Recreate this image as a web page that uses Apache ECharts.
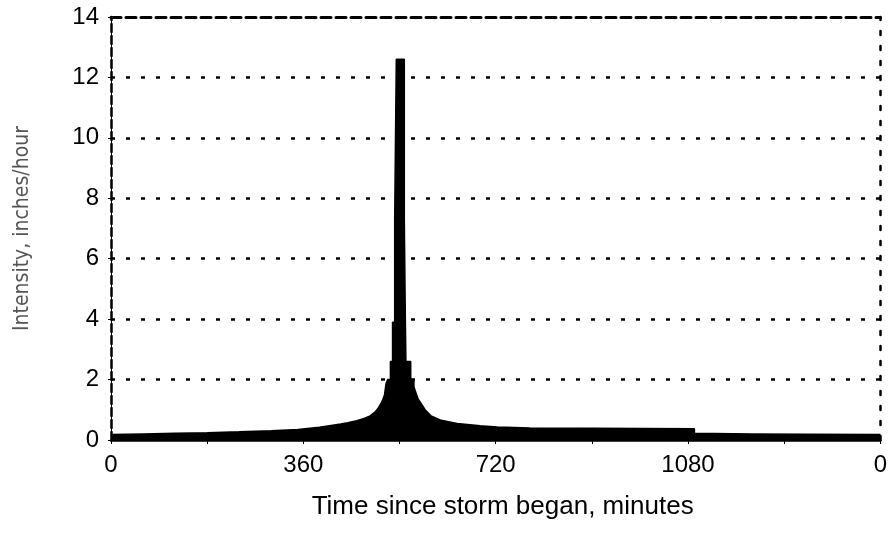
<!DOCTYPE html>
<html>
<head>
<meta charset="utf-8">
<script src="https://cdn.jsdelivr.net/npm/echarts@6/dist/echarts.min.js"></script>
<style>
html,body{margin:0;padding:0;background:#fff;}
#chart{width:890px;height:535px;}
</style>
</head>
<body>
<div id="chart"></div>
<script>
// Time (minutes since storm began); repeated times mark the vertical jumps of the hyetograph
var times = [0, 60, 120, 180, 240, 300, 350, 390, 412, 430, 443, 460, 475, 485, 494, 500, 505, 509, 512, 515,
             518, 523, 523, 527, 527, 531, 531, 534, 534, 549, 549, 551, 551, 552, 552, 561, 561, 567,
             567, 575, 588, 599, 618, 648, 691, 723, 784, 900, 1000, 1092, 1092, 1200, 1300, 1440];
// Intensity, inches/hour
var intensity = [0.18, 0.20, 0.22, 0.24, 0.27, 0.31, 0.35, 0.42, 0.48, 0.53, 0.57, 0.64, 0.72, 0.80, 0.92, 1.05, 1.20, 1.35, 1.50, 1.88,
                 2.0, 2.0, 2.6, 2.6, 3.9, 3.9, 7.3, 7.3, 12.6, 12.6, 7.3, 7.3, 3.9, 3.9, 2.6, 2.6, 2.0, 2.0,
                 1.75, 1.35, 1.0, 0.8, 0.65, 0.55, 0.47, 0.43, 0.40, 0.39, 0.38, 0.37, 0.22, 0.20, 0.19, 0.18];
var xTicks = [0, 360, 720, 1080, 1440];
var xTickLabels = ['0', '360', '720', '1080', '0'];
var yTicks = [0, 2, 4, 6, 8, 10, 12, 14];
var xTitle = 'Time since storm began, minutes';
var yTitle = 'Intensity, inches/hour';

var seriesData = times.map(function (t, i) { return [t, intensity[i]]; });
var FONT = '"Liberation Sans", Arial, sans-serif';

var chart = echarts.init(document.getElementById('chart'), null, {renderer: 'canvas'});
chart.setOption({
  animation: false,
  backgroundColor: '#ffffff',
  grid: {left: 111, right: 5, top: 17, bottom: 95, containLabel: false},
  xAxis: [{
    type: 'value', min: xTicks[0], max: xTicks[xTicks.length - 1], interval: xTicks[1] - xTicks[0],
    position: 'bottom',
    name: xTitle, nameLocation: 'middle', nameGap: 54,
    nameTextStyle: {fontFamily: FONT, fontSize: 26, color: '#000', padding: [0, 0, 0, 14]},
    axisLine: {show: true, onZero: false, lineStyle: {color: '#000', width: 2.5}},
    axisTick: {show: true, length: 4, lineStyle: {color: '#000', width: 1}},
    minorTick: {show: true, splitNumber: 2, length: 4, lineStyle: {color: '#000', width: 1}},
    axisLabel: {
      margin: 13, fontFamily: FONT, fontSize: 24, color: '#000',
      formatter: function (v) { var i = xTicks.indexOf(v); return i >= 0 ? xTickLabels[i] : ''; }
    },
    splitLine: {show: false}
  }, {
    type: 'value', min: xTicks[0], max: xTicks[xTicks.length - 1], position: 'top',
    axisLine: {show: true, onZero: false, lineStyle: {color: '#000', width: 3, type: [10, 5]}},
    axisTick: {show: false}, axisLabel: {show: false}, splitLine: {show: false}
  }],
  yAxis: [{
    type: 'value', min: yTicks[0], max: yTicks[yTicks.length - 1], interval: yTicks[1] - yTicks[0],
    position: 'left',
    name: yTitle, nameLocation: 'middle', nameGap: 78,
    nameTextStyle: {fontFamily: '"Liberation Sans Narrow", "DejaVu Sans Condensed", sans-serif', fontSize: 21, color: '#555'},
    axisLine: {show: true, onZero: false, lineStyle: {color: '#000', width: 2.5, type: [8, 4]}},
    axisTick: {show: true, length: 3, lineStyle: {color: '#000', width: 1}},
    axisLabel: {margin: 12, fontFamily: FONT, fontSize: 24, color: '#000'},
    splitLine: {show: true, showMinLine: false, showMaxLine: false, lineStyle: {color: '#000', width: 2.5, type: [4, 11]}}
  }, {
    type: 'value', min: yTicks[0], max: yTicks[yTicks.length - 1], position: 'left', offset: 0,
    axisLine: {show: true, onZero: false, lineStyle: {color: '#000', width: 1}},
    axisTick: {show: false}, axisLabel: {show: false}, splitLine: {show: false}
  }, {
    type: 'value', min: yTicks[0], max: yTicks[yTicks.length - 1], position: 'right',
    axisLine: {show: true, onZero: false, lineStyle: {color: '#000', width: 2.5, type: [4, 11]}},
    axisTick: {show: false}, axisLabel: {show: false}, splitLine: {show: false}
  }],
  series: [{
    type: 'line',
    xAxisIndex: 0, yAxisIndex: 0,
    data: seriesData,
    symbol: 'none',
    lineStyle: {color: '#000', width: 1.5},
    areaStyle: {color: '#000', opacity: 1},
    z: 3
  }]
});
</script>
</body>
</html>
